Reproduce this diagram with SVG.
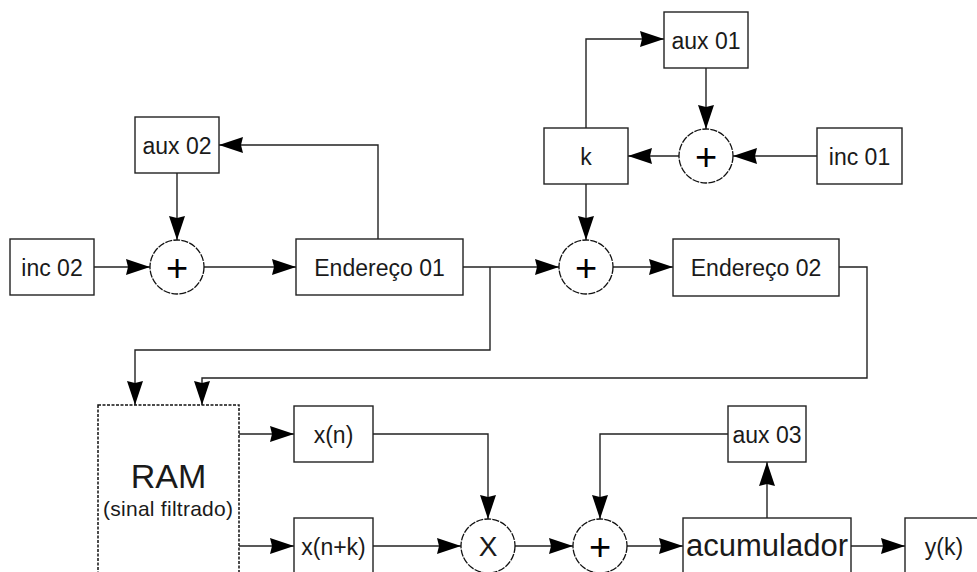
<svg xmlns="http://www.w3.org/2000/svg" width="977" height="572" viewBox="0 0 977 572">
<style>
.box{fill:#fff;stroke:#222;stroke-width:1.4}
.ram{fill:#fff;stroke:#111;stroke-width:1.5;stroke-dasharray:3,1.5}
.sum{fill:#fff;stroke:#111;stroke-width:1.3;stroke-dasharray:7,1.2}
.lbl{font-family:"Liberation Sans",Arial,sans-serif;font-size:23px;fill:#1a1a1a;text-anchor:middle}
.op{font-family:"Liberation Sans",Arial,sans-serif;font-size:38px;fill:#000;text-anchor:middle}
.conn path{fill:none;stroke:#222;stroke-width:1.4;marker-end:url(#ah)}
</style>
<defs>
<marker id="ah" markerUnits="userSpaceOnUse" markerWidth="24" markerHeight="18" refX="24" refY="9" orient="auto">
<path d="M0,1 L24,9 L0,17 L2,9 Z" fill="#000"/>
</marker>
</defs>
<rect width="977" height="572" fill="#fff"/>
<g class="conn">
<path d="M94,267 H150"/>
<path d="M177,173 V240"/>
<path d="M204,267 H296"/>
<path d="M378,239 V145 H219"/>
<path d="M463,267 H559"/>
<path d="M490,267 V350 H135 V405"/>
<path d="M586,128 V39 H664"/>
<path d="M706,68 V129"/>
<path d="M817,156 H733"/>
<path d="M679,156 H628"/>
<path d="M586,184 V240"/>
<path d="M613,267 H673"/>
<path d="M839,267 H867 V378 H202 V405"/>
<path d="M239,434 H294"/>
<path d="M239,546 H294"/>
<path d="M373,546 H461"/>
<path d="M373,434 H488 V519"/>
<path d="M515,546 H573"/>
<path d="M728,434 H600 V519"/>
<path d="M627,546 H683"/>
<path d="M767,518 V462"/>
<path d="M851,546 H905"/>
</g>
<g id="inc02"><rect class="box" x="10" y="239" width="84" height="56"/><text class="lbl" x="52" y="275.5">inc 02</text></g>
<g id="aux02"><rect class="box" x="135" y="117" width="84" height="56"/><text class="lbl" x="177" y="153.5">aux 02</text></g>
<g id="sum1"><circle class="sum" cx="177" cy="267" r="27"/><text class="op" x="177" y="280.5">+</text></g>
<g id="end01"><rect class="box" x="296" y="239" width="167" height="56"/><text class="lbl" x="379.5" y="275.5">Endereço 01</text></g>
<g id="aux01"><rect class="box" x="664" y="12" width="84" height="56"/><text class="lbl" x="706" y="48.5">aux 01</text></g>
<g id="k"><rect class="box" x="544" y="128" width="84" height="56"/><text class="lbl" x="586" y="164.5">k</text></g>
<g id="sum3"><circle class="sum" cx="706" cy="156" r="27"/><text class="op" x="706" y="169.5">+</text></g>
<g id="inc01"><rect class="box" x="817" y="128" width="85" height="56"/><text class="lbl" x="859.5" y="164.5">inc 01</text></g>
<g id="sum2"><circle class="sum" cx="586" cy="267" r="27"/><text class="op" x="586" y="280.5">+</text></g>
<g id="end02"><rect class="box" x="673" y="239" width="166" height="57"/><text class="lbl" x="756" y="276">Endereço 02</text></g>
<g id="ram"><rect class="ram" x="98" y="405" width="141" height="180"/>
<text class="lbl" x="168.5" y="488" style="font-size:34px">RAM</text>
<text class="lbl" x="168" y="515.5" style="font-size:21px" textLength="130" lengthAdjust="spacing">(sinal filtrado)</text></g>
<g id="xn"><rect class="box" x="294" y="406" width="79" height="56"/><text class="lbl" x="333.5" y="442.5">x(n)</text></g>
<g id="xnk"><rect class="box" x="294" y="518" width="79" height="56"/><text class="lbl" x="333.5" y="554.5">x(n+k)</text></g>
<g id="mult"><circle class="sum" cx="488" cy="546" r="27"/><text class="lbl" x="488" y="556" style="font-size:28px">X</text></g>
<g id="sum4"><circle class="sum" cx="600" cy="546" r="27"/><text class="op" x="600" y="559.5">+</text></g>
<g id="aux03"><rect class="box" x="728" y="406" width="78" height="56"/><text class="lbl" x="767" y="442.5">aux 03</text></g>
<g id="acc"><rect class="box" x="683" y="518" width="168" height="58"/><text class="lbl" x="767" y="556" style="font-size:31px" textLength="162" lengthAdjust="spacingAndGlyphs">acumulador</text></g>
<g id="yk"><rect class="box" x="905" y="518" width="79" height="56"/><text class="lbl" x="944" y="555">y(k)</text></g>
</svg>
